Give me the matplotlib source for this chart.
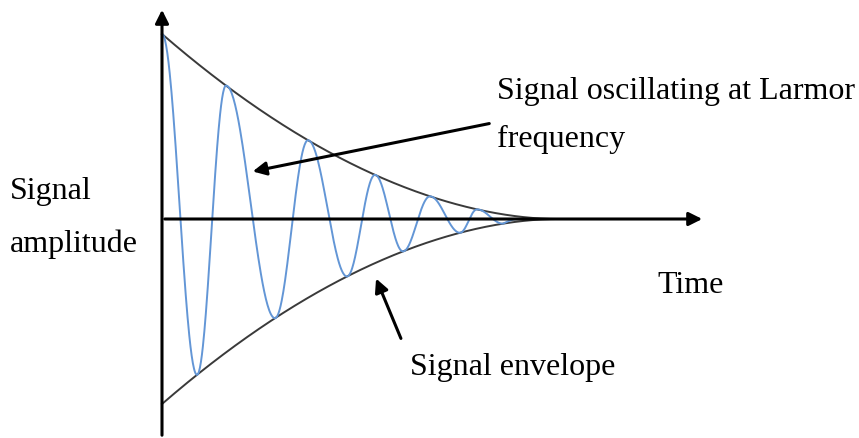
import matplotlib.pyplot as plt
import numpy as np

plt.rcParams['font.family'] = ['Liberation Serif', 'DejaVu Serif']

# envelope: starts at +/-185, closes at t=395
env_a0 = 185.0
env_end = 395.0
env_power = 1.85

# extrema of the oscillating signal (time, sign)
ext_t = [0, 35, 64, 113, 146, 185, 213, 241, 268, 298, 315, 341]
ext_sign = [1, -1, 1, -1, 1, -1, 1, -1, 1, -1, 1, -1]
sig_end_t = 356

# text lines and their baselines (t, amplitude)
text_lines = ['Signal oscillating at Larmor', 'frequency', 'Signal', 'amplitude',
              'Time', 'Signal envelope']
text_x = [335, 335, -152, -152, 495, 248]
text_y = [121, 73, 21, -32, -73, -155]


def envelope(t):
    return env_a0 * np.clip(1 - np.asarray(t) / env_end, 0, None) ** env_power


fig = plt.figure(figsize=(8.59, 4.39), dpi=100)
ax = fig.add_axes([0, 0, 1, 1])
ax.set_xlim(-162, 697)
ax.set_ylim(-219, 220)
ax.axis('off')

# envelope
te = np.linspace(0, env_end, 400)
ax.plot(te, envelope(te), color='#3a3a3a', lw=1.4)
ax.plot(te, -envelope(te), color='#3a3a3a', lw=1.4)

# signal: half-cosine pieces between extrema
ts, ys = [], []
pts_t = ext_t + [sig_end_t]
pts_y = [s * envelope(t) for t, s in zip(ext_t, ext_sign)] + [0.0]
for i in range(len(pts_t) - 1):
    t0, t1 = pts_t[i], pts_t[i + 1]
    y0, y1 = pts_y[i], pts_y[i + 1]
    u = np.linspace(0, 1, 60)
    w = (1 - np.cos(np.pi * u)) / 2
    if i == len(pts_t) - 2:
        w = np.sin(np.pi * u / 2)
    ts.append(t0 + (t1 - t0) * u)
    ys.append(y0 + (y1 - y0) * w)
ax.plot(np.concatenate(ts), np.concatenate(ys), color='#6396d6', lw=1.4)

arr = dict(arrowstyle='-|>', color='black', lw=2.2, mutation_scale=20)
# axes with arrows
ax.annotate('', xy=(0, 212), xytext=(0, -219), arrowprops=arr)
ax.annotate('', xy=(543, 0), xytext=(0, 0), arrowprops=arr)

for s, x, y in zip(text_lines, text_x, text_y):
    ax.text(x, y, s, fontsize=23, va='baseline', ha='left')

# pointers
ax.annotate('', xy=(88, 47), xytext=(330, 96), arrowprops=arr)
ax.annotate('', xy=(213, -57), xytext=(240, -122), arrowprops=arr)

fig.savefig('out.png', dpi=100)
